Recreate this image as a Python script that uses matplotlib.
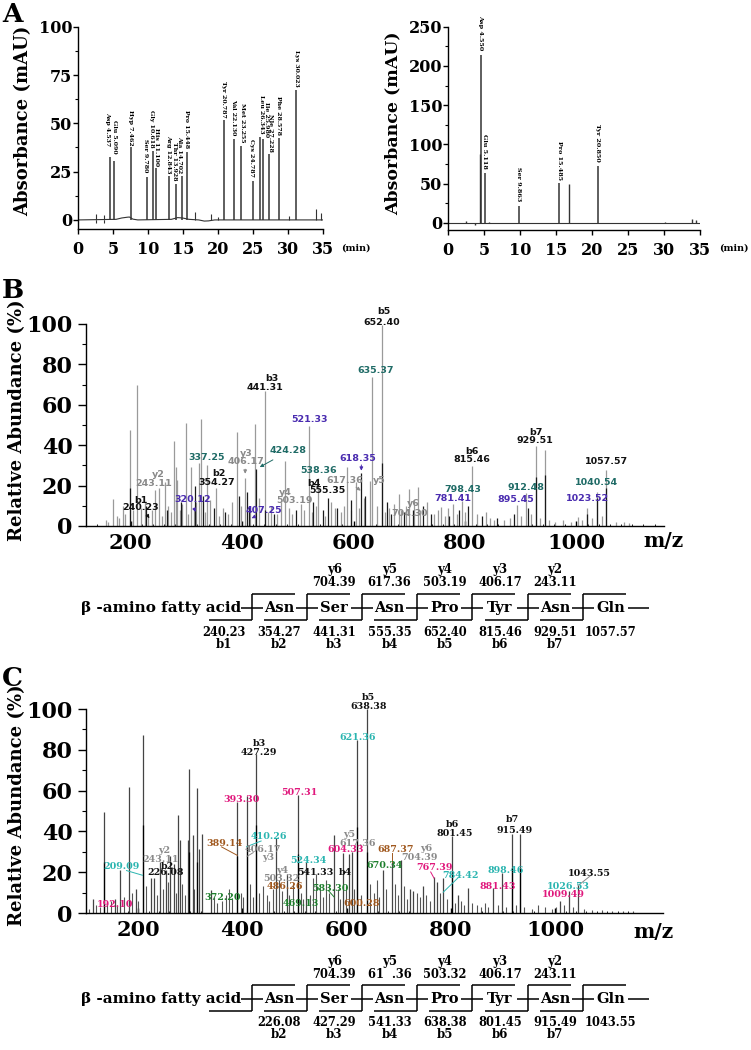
import numpy as np
import matplotlib
matplotlib.use("Agg")
import matplotlib.pyplot as plt

plt.rcParams["font.family"] = "DejaVu Serif"
plt.rcParams["font.weight"] = "bold"

# ---------------- A : amino acid analysis ----------------
std_names = ["Asp 4.537", "Glu 5.090", "Hyp 7.462", "Ser 9.780", "Gly 10.618", "His 11.100",
             "Arg 12.843", "Thr 13.928", "Ala 14.702", "Pro 15.448", "Tyr 20.787", "Val 22.130",
             "Met 23.255", "Cys 24.787", "Ile 25.980", "Leu 26.343", "Nle 27.228", "Phe 28.578",
             "Lys 30.023"]
std_t = [4.48, 5.10, 7.47, 9.76, 10.60, 11.10, 12.90, 13.95, 14.76, 15.47, 20.86, 22.20,
         23.29, 24.90, 25.95, 26.40, 27.30, 28.70, 31.06]
std_h = [32.4, 30.3, 37.9, 22.0, 35.9, 26.7, 22.6, 18.8, 22.6, 35.2, 51.7, 42.0,
         38.3, 20.3, 43.0, 42.0, 34.0, 42.6, 67.2]
std_minor_t = [2.5, 2.5, 3.7, 3.7, 16.7, 18.9, 20.0, 30.1, 34.0, 34.6]
std_minor_h = [3.0, -1.4, 2.4, -1.5, 4.0, 3.0, 1.4, 2.0, 5.5, 3.8]
std_base_t = [0, 5.4, 6.2, 7.0, 7.3, 7.8, 8.5, 13.3, 14.2, 14.9, 15.8, 17.2, 18.0, 18.6, 19.5, 35]
std_base_v = [0, 0.3, 1.0, 1.4, 1.5, 0.4, 0, 0.3, 1.2, 1.0, 0.3, 0, -0.6, -0.5, 0, 0]

smp_names = ["Asp 4.550", "Glu 5.118", "Ser 9.863", "Pro 15.485", "Tyr 20.850"]
smp_t = [4.50, 5.10, 9.83, 15.44, 20.86]
smp_h = [213.9, 63.8, 21.3, 51.0, 72.7]
smp_minor_t = [4.40, 16.74, 2.5, 3.7, 5.7, 30.1, 33.9, 34.5]
smp_minor_h = [88, 50.2, 2.5, -2.0, 1.0, 1.5, 5.0, 3.4]

# ---------------- B : MS/MS of first compound ----------------
B_GRAY = [(155, 3), (160, 2), (168, 13.6), (175, 5), (180, 4), (185.6, 10), (190, 6), (199.6, 47.6),
          (205, 8), (212, 70), (219, 9), (225, 12), (232, 6), (238, 8), (243.7, 18), (251, 19),
          (256, 5), (261, 21.7), (268, 10), (273, 7), (277.6, 42.3), (281, 29), (283, 23), (288, 8),
          (293, 11), (298.8, 50.9), (303, 6), (308.8, 29), (313, 9), (318, 12), (322.9, 31),
          (326.4, 53), (333, 7), (337, 30.4), (343, 13), (354, 18.6), (359, 5), (366, 9), (375, 6),
          (382, 12), (391, 46.6), (398, 10), (405.6, 24), (415, 8), (422.7, 50.6), (430, 14),
          (440.8, 66.8), (447, 7), (452, 10), (463, 6), (469, 12), (477.8, 32.4), (485, 9), (490, 6),
          (505, 11), (512, 8), (520, 49.7), (525, 7), (532, 10), (537, 24), (548, 5), (560, 12),
          (566, 9), (578, 7), (583, 10), (588.7, 29.4), (595, 8), (604.6, 21.7), (610, 9), (618, 14),
          (629.8, 22.5), (634, 73.7), (642, 10), (651.6, 99.3), (656, 7), (663, 9), (673, 11),
          (681.5, 16), (686, 8), (694, 10), (699, 18.4), (708, 13), (715.5, 19.3), (720, 8),
          (732, 12), (745, 6), (752, 8), (757.7, 9.4), (764, 5), (770, 9), (779, 11), (786, 6),
          (795, 12.5), (800, 7), (813, 29.5), (822, 6), (838, 7), (845, 4), (852, 3), (870, 3),
          (880, 4), (893, 10.4), (900, 5), (909.7, 16.5), (918, 6), (926.8, 39.6), (935, 4),
          (943, 37.8), (950, 3), (962, 2), (975, 3), (990, 2), (1002, 4.5), (1010, 3), (1019, 9.1),
          (1028, 4), (1036, 16.7), (1045, 5), (1053.5, 27.6), (1070, 2), (1085, 2), (1095, 1.5)]
B_BLACK = [(198.4, 19), (228, 10), (265, 8), (290, 12), (315.8, 20), (330, 15), (349, 9), (370, 7),
           (395, 15), (409, 17), (413, 10), (425.5, 28), (440.8, 8), (458, 6), (497, 8), (528, 12),
           (545, 8), (554.8, 14), (571, 9), (596, 13), (614, 26), (621, 15), (651.6, 31), (660, 12),
           (668, 6), (690, 7), (706, 8), (725, 10), (739, 6), (772, 5), (790, 8), (806, 10), (830, 5),
           (858, 4), (888, 6), (913, 9), (926.8, 24.5), (943, 25), (1019, 6), (1036, 14), (1053.5, 19)]

# ---------------- C : MS/MS of second compound ----------------
C_MAIN = [(113.6, 7), (134.7, 49.7), (155, 7), (165, 21.3), (182, 62), (195.6, 11.8), (209.6, 87.4),
          (224, 17.4), (230.7, 17.4), (241.7, 25), (252.6, 21), (262, 28), (268.5, 24), (276.8, 48),
          (280, 35.8), (294.8, 36), (298, 70.5), (304.4, 38.2), (312, 61.5), (316.5, 31.6),
          (321.7, 38.7), (339, 11.5), (390, 54.6), (408, 57.4), (426, 78), (463.7, 36.9),
          (484.8, 19.3), (506, 58), (523, 25), (575.6, 38.2), (592.3, 29.2), (604.4, 29), (610, 30),
          (620.4, 84.9), (638.4, 100), (669, 21), (686.4, 25), (703.6, 26), (721.5, 12), (728, 11),
          (747, 13), (767.5, 17.5), (774, 15), (785.6, 17.2), (801.5, 37.6), (813, 9), (832, 12.5),
          (881.4, 12.5), (898.8, 19.8), (916.7, 38.9), (932.8, 38.9), (1009.5, 6), (1026.7, 11),
          (1044.5, 13.5)]
C_SMALL = [(105, 2), (120, 4), (126, 3), (140, 5), (148, 6), (160, 4), (172, 8), (188, 10), (200, 6),
           (216, 13), (236, 9), (247, 12), (257, 15), (272, 10), (285, 14), (290, 9), (308, 12),
           (345, 8), (352, 5), (360, 6), (368, 9), (375, 12), (380, 7), (398, 10), (402, 8), (415, 14),
           (420, 8), (432, 10), (440, 13), (447, 9), (452, 6), (458, 12), (470, 16), (476, 11),
           (490, 9), (497, 14), (512, 10), (517, 7), (530, 9), (535, 17), (541.3, 19), (548, 12),
           (555, 8), (560, 16), (566, 10), (583, 12), (588, 7), (598, 13), (615, 12), (628, 9),
           (645, 14), (652, 10), (658, 16), (663, 8), (676, 12), (692, 14), (698, 9), (710, 13),
           (715, 7), (735, 10), (740, 8), (752, 9), (760, 6), (780, 10), (792, 7), (808, 5), (820, 6),
           (826, 4), (840, 5), (850, 4), (858, 3), (865, 5), (872, 3), (890, 4), (905, 3), (925, 4),
           (940, 3), (955, 2), (968, 4), (980, 3), (995, 2), (1002, 3), (1018, 4), (1035, 3),
           (1055, 2), (1070, 1.5), (1090, 1.5), (1110, 1), (1130, 1), (1150, 1)]
C_BLACK = [(134.7, 25), (209.6, 43), (298, 30), (312, 25), (390, 28), (408, 32), (426, 43),
           (506, 28.8), (620.4, 42), (638.4, 30), (801.5, 20), (916.7, 22), (932.8, 22)]

residues = ["Asn", "Ser", "Asn", "Pro", "Tyr", "Asn", "Gln"]
y_ions = ["y6", "y5", "y4", "y3", "y2"]
B_y_vals = ["704.39", "617.36", "503.19", "406.17", "243.11"]
B_b_vals = ["240.23", "354.27", "441.31", "555.35", "652.40", "815.46", "929.51", "1057.57"]
B_b_names = ["b1", "b2", "b3", "b4", "b5", "b6", "b7"]
C_y_vals = ["704.39", "61  .36", "503.32", "406.17", "243.11"]
C_b_vals = ["226.08", "427.29", "541.33", "638.38", "801.45", "915.49", "1043.55"]
C_b_names = ["b2", "b3", "b4", "b5", "b6", "b7"]

# colours
BLK = "#111111"
GRY = "#8a8a8a"
TEAL = "#1f6b66"
PURP = "#4a2cb0"
CYAN = "#2bb5b0"
MAG = "#e0187c"
BRN = "#a0581e"
GRN = "#1d7f2c"

# annotation layout (text, m/z, y, colour)
B_labels = [("b3", 453, 73.0, BLK), ("441.31", 441, 68.6, BLK),
            ("b5", 654, 106.3, BLK), ("652.40", 650.4, 100.7, BLK),
            ("635.37", 639.8, 77.0, TEAL), ("521.33", 521.8, 52.7, PURP),
            ("424.28", 483.1, 37.4, TEAL), ("337.25", 337.0, 34.1, TEAL),
            ("y3", 407.4, 35.9, GRY), ("406.17", 407.4, 31.9, GRY),
            ("y2", 249.0, 25.5, GRY), ("243.11", 241.9, 21.0, GRY),
            ("b2", 358.1, 26.0, BLK), ("354.27", 354.6, 21.5, BLK),
            ("320.12", 312.3, 13.1, PURP), ("b1", 219.0, 12.6, BLK), ("240.23", 217.3, 9.2, BLK),
            ("407.25", 439.1, 7.7, PURP), ("538.36", 537.7, 27.5, TEAL),
            ("618.35", 608.1, 33.6, PURP), ("b4", 529.2, 21.2, BLK), ("555.35", 553.5, 17.6, BLK),
            ("617.36", 583.5, 22.5, GRY), ("y5", 646, 22.5, GRY),
            ("y4", 477.5, 16.7, GRY), ("503.19", 493.7, 12.6, GRY),
            ("y6", 706.7, 11.1, GRY), ("704.30", 701.4, 6.3, GRY),
            ("b6", 812.3, 36.9, BLK), ("815.46", 812.3, 32.9, BLK),
            ("798.43", 796.5, 18.1, TEAL), ("781.41", 778.9, 13.6, PURP),
            ("b7", 926.8, 46.3, BLK), ("929.51", 925.1, 42.3, BLK),
            ("912.48", 909.2, 19.2, TEAL), ("895.45", 891.5, 13.3, PURP),
            ("1057.57", 1053.5, 32.1, BLK), ("1040.54", 1035.9, 21.5, TEAL),
            ("1023.52", 1020.1, 13.8, PURP)]
B_arrows = [((459.7, 33.4), (427.3, 28.5), TEAL), ((405.6, 29.5), (405.6, 24.5), GRY),
            ((311.8, 10.1), (318.8, 5.7), PURP), ((227.8, 6.2), (236.6, 2.7), BLK),
            ((426.8, 5.2), (412.7, 3.2), PURP), ((614, 31.6), (614, 26.0), PURP),
            ((600.5, 20.0), (617, 16.7), GRY)]

C_labels = [("b5", 641.5, 105.5, BLK), ("638.38", 642.8, 101.4, BLK),
            ("621.36", 620.7, 86.1, CYAN), ("b3", 432.2, 82.9, BLK), ("427.29", 432.1, 78.7, BLK),
            ("393.30", 398.5, 55.8, MAG), ("507.31", 509.8, 59.0, MAG),
            ("410.26", 450.3, 37.3, CYAN), ("389.14", 366.4, 34.1, BRN),
            ("406.17", 439.3, 31.3, GRY), ("y3", 449.5, 27.2, GRY),
            ("y2", 249.3, 30.5, GRY), ("243.11", 244.0, 26.3, GRY),
            ("b2", 257.0, 22.6, BLK), ("226.08", 253.0, 19.8, BLK),
            ("209.09", 168.1, 22.6, CYAN), ("192.10", 154.7, 4.2, MAG),
            ("541.33", 539.7, 19.8, BLK), ("b4", 598.6, 19.8, BLK),
            ("y4", 477.2, 20.9, GRY), ("503.32", 474.5, 17.1, GRY),
            ("524.34", 526.3, 25.5, CYAN), ("486.26", 481.6, 13.1, BRN),
            ("583.30", 568.9, 11.9, GRN), ("372.20", 361.6, 7.8, GRN),
            ("469.13", 511.3, 4.8, GRN), ("600.28", 628.4, 4.8, BRN),
            ("y5", 605.0, 38.7, GRY), ("617.36", 620.7, 34.1, GRY),
            ("604.33", 598.3, 31.1, MAG), ("687.37", 694.2, 31.1, BRN),
            ("y6", 752.2, 31.6, GRY), ("704.39", 738.8, 27.2, GRY),
            ("670.34", 673.5, 23.4, GRN), ("767.39", 768.0, 22.1, MAG),
            ("784.42", 819.0, 18.5, CYAN), ("b6", 803.5, 43.4, BLK), ("801.45", 806.9, 39.0, BLK),
            ("898.46", 905.4, 20.9, CYAN), ("881.43", 889.4, 13.2, MAG),
            ("b7", 917.9, 45.6, BLK), ("915.49", 921.5, 40.3, BLK),
            ("1043.55", 1065.7, 19.6, BLK), ("1026.53", 1024.4, 13.2, CYAN),
            ("1009.49", 1015.7, 9.0, MAG)]
C_leaders = [((360, 32.4), (390, 28.3), BRN), ((420.8, 29.6), (409.2, 27.8), GRY),
             ((177.7, 20.8), (208.4, 18.5), CYAN), ((814, 17.3), (785.4, 10.2), CYAN),
             ((1067, 18.1), (1044.5, 13.5), GRY), ((761.3, 20.1), (767.7, 17.1), MAG),
             ((436, 35.3), (408, 32.5), CYAN), ((564.7, 11.1), (576.2, 7.8), GRN),
             ((686.4, 29.2), (686.4, 25.0), BRN)]

std_lab_x = [4.15, 5.24, 7.40, 9.67, 10.50, 11.20, 12.86, 13.80, 14.53, 15.50, 20.80, 22.24,
             23.39, 24.81, 26.85, 26.20, 27.50, 28.57, 31.10]
std_lab_y = [38, 34.5, 38.5, 24.5, 37.5, 28, 24, 20.5, 24, 37, 53, 43.5, 40, 22, 43, 44.5, 35, 44, 69]
smp_lab_x = [4.5, 5.1, 9.83, 15.44, 20.77]
smp_lab_y = [220, 69, 27, 55, 78]

# ---------------- figure ----------------
W, H = 751, 1050
fig = plt.figure(figsize=(7.51, 10.5), dpi=100)
ov = fig.add_axes([0, 0, 1, 1])
ov.set_xlim(0, W)
ov.set_ylim(H, 0)
ov.axis("off")


def px_axes(x0, y0, x1, y1):
    a = fig.add_axes([x0 / W, 1 - y1 / H, (x1 - x0) / W, (y1 - y0) / H])
    a.patch.set_alpha(0)
    for s in ("top", "right"):
        a.spines[s].set_visible(False)
    for s in ("left", "bottom"):
        a.spines[s].set_linewidth(1.0)
    return a


axL = px_axes(78.3, 26.7, 323.3, 229)
axR = px_axes(448.3, 26.7, 700, 230)
axB = px_axes(86, 324, 664, 526)
axC = px_axes(86, 709, 663, 913)

# chromatograms
trace = "#333333"
axL.plot(std_base_t, std_base_v, color=trace, lw=0.8)
axL.vlines(std_t, 0, std_h, color=trace, lw=1.1)
axL.vlines(std_minor_t, 0, std_minor_h, color=trace, lw=0.8)
for name, x, y in zip(std_names, std_lab_x, std_lab_y):
    axL.text(x, y, name, rotation=270, ha="center", va="bottom", fontsize=4.5)
axL.set_xlim(0, 35)
axL.set_ylim(-4.7, 100)
axL.set_xticks(range(0, 36, 5))
axL.set_yticks([0, 25, 50, 75, 100])
axL.set_yticks(np.arange(12.5, 100, 25), minor=True)

axR.plot([0, 35], [0, 0], color=trace, lw=0.8)
axR.vlines(smp_t, 0, smp_h, color=trace, lw=1.1)
axR.vlines(smp_minor_t, 0, smp_minor_h, color=trace, lw=1.0)
for name, x, y in zip(smp_names, smp_lab_x, smp_lab_y):
    axR.text(x, y, name, rotation=270, ha="center", va="bottom", fontsize=4.6)
axR.set_xlim(0, 35)
axR.set_ylim(-9, 250)
axR.set_xticks(range(0, 36, 5))
axR.set_yticks(range(0, 251, 50))
axR.set_yticks(range(25, 250, 50), minor=True)

for a in (axL, axR):
    a.tick_params(which="major", labelsize=11.5, width=1, length=3.5, direction="out")
    a.tick_params(which="minor", width=0.8, length=2, direction="out")
    a.tick_params(axis="y", pad=1)
    a.tick_params(axis="x", pad=5)

# spectra
mz, h = zip(*B_GRAY)
axB.vlines(mz, 0, h, color="#9a9a9a", lw=0.9)
mz, h = zip(*B_BLACK)
axB.vlines(mz, 0, h, color="#1a1a1a", lw=0.9)
for txt, x, y, c in B_labels:
    axB.text(x, y, txt, color=c, fontsize=6.8, ha="center", va="center",
             family="DejaVu Sans", fontweight="bold", clip_on=False)
for p0, p1, c in B_arrows:
    axB.annotate("", xy=p1, xytext=p0,
                 arrowprops=dict(arrowstyle="-|>", color=c, lw=0.7, mutation_scale=5))
axB.set_xlim(142, 1157)

mz, h = zip(*C_SMALL)
axC.vlines(mz, 0, h, color="#555555", lw=0.8)
mz, h = zip(*C_MAIN)
axC.vlines(mz, 0, h, color="#444444", lw=0.9)
mz, h = zip(*C_BLACK)
axC.vlines(mz, 0, h, color="#000000", lw=0.9)
for txt, x, y, c in C_labels:
    axC.text(x, y, txt, color=c, fontsize=6.8, ha="center", va="center", clip_on=False)
for p0, p1, c in C_leaders:
    axC.plot([p0[0], p1[0]], [p0[1], p1[1]], color=c, lw=0.7)
axC.set_xlim(100, 1207)

for a in (axB, axC):
    a.set_ylim(0, 100)
    a.set_xticks(range(200, 1001, 200))
    a.set_xticks(range(120, 1160, 20), minor=True)
    a.set_yticks(range(0, 101, 20))
    a.set_yticks(range(10, 100, 20), minor=True)
    a.tick_params(axis="y", which="major", direction="out", length=5.5, width=1, labelsize=16, pad=4)
    a.tick_params(axis="y", which="minor", direction="out", length=3, width=0.8)
    a.tick_params(axis="x", which="major", direction="in", length=3.5, width=1, labelsize=15, pad=5)
    a.tick_params(axis="x", which="minor", direction="in", length=1.5, width=0.6)

# axis titles and panel letters
ov.text(23, 121, "Absorbance (mAU)", rotation=90, ha="center", va="center", fontsize=13)
ov.text(393, 123, "Absorbance (mAU)", rotation=90, ha="center", va="center", fontsize=12.5)
ov.text(17, 420, "Relative Abundance (%)", rotation=90, ha="center", va="center", fontsize=13)
ov.text(17, 805, "Relative Abundance (%)", rotation=90, ha="center", va="center", fontsize=13)
ov.text(356, 248, "(min)", ha="center", va="center", fontsize=6.8)
ov.text(734, 248, "(min)", ha="center", va="center", fontsize=6.8)
ov.text(663, 541, "m/z", ha="center", va="center", fontsize=14.5)
ov.text(653, 932, "m/z", ha="center", va="center", fontsize=14.5)
for letter, y in (("A", 14), ("B", 291), ("C", 679)):
    ov.text(2, y, letter, ha="left", va="center", fontsize=19)


# fragment maps
def sequence(y0, y_vals, b_vals, b_names, b_start):
    ylab, yval, top, mid, bot, bval, blab = [y0 + d for d in (28.5, 41.5, 52.5, 66.5, 78.5, 90.5, 102.5)]
    kw = dict(color="k", lw=1.1, solid_capstyle="butt")
    ov.text(241, mid, "β -amino fatty acid", ha="right", va="center", fontsize=11)
    for i, res in enumerate(residues):
        sx = 251.5 + i * 55.2
        ov.text(sx + 27.6, mid, res, ha="center", va="center", fontsize=10.5)
        ov.plot([sx, sx], [top, bot], **kw)
        ov.plot([sx, sx + 43], [top, top], **kw)
        ov.plot([sx - 43, sx], [bot, bot], **kw)
        ov.plot([sx - 11, sx + 11], [mid, mid], **kw)
    ov.plot([628, 649], [mid, mid], **kw)
    for k, (ion, val) in enumerate(zip(y_ions, y_vals)):
        cx = 251.5 + (k + 1) * 55.2 + 27.6
        ov.text(cx, ylab, ion, ha="center", va="center", fontsize=8.5)
        ov.text(cx, yval, val, ha="center", va="center", fontsize=8.3)
    for k, val in enumerate(b_vals):
        cx = 251.5 + (k + b_start) * 55.2 - 27.6
        ov.text(cx, bval, val, ha="center", va="center", fontsize=8.3)
        if k < len(b_names):
            ov.text(cx, blab, b_names[k], ha="center", va="center", fontsize=8.5)


sequence(541.5, B_y_vals, B_b_vals, B_b_names, 0)
sequence(932.5, C_y_vals, C_b_vals, C_b_names, 1)

fig.savefig("out.png", dpi=100)
